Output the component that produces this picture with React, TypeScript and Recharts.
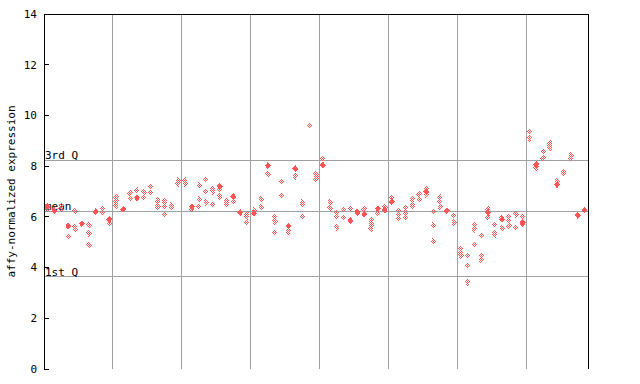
import React from "react";
import { ScatterChart, Scatter, XAxis, YAxis, ReferenceLine } from "recharts";

// sample index -> value, solid (filled) markers
const solidPoints: [number, number][] = [
  [0, 6.4], [1, 6.24], [3, 5.64], [5, 5.73], [7, 6.2], [9, 5.9], [11, 6.3], [13, 6.75],
  [21, 6.4], [25, 7.2], [27, 6.8], [28, 6.17], [30, 6.14], [32, 8.02], [35, 5.64], [36, 7.9],
  [40, 8.04], [44, 5.85], [45, 6.2], [46, 6.11], [48, 6.32], [49, 6.27], [50, 6.6], [55, 6.99],
  [58, 6.24], [64, 6.17], [66, 5.9], [69, 5.78], [71, 8.07], [74, 7.27], [77, 6.06], [78, 6.27],
];

// sample index -> value, hatched (checkered) markers
const hatchedPoints: [number, number][] = [
  [0, 6.3], [2, 6.45], [2, 6.32], [3, 5.23], [4, 6.23], [4, 5.61], [4, 5.51],
  [6, 5.67], [6, 5.35], [6, 4.88], [8, 6.3], [8, 6.2], [9, 5.74],
  [10, 6.77], [10, 6.61], [10, 6.45], [12, 6.94], [12, 6.72], [13, 7.05],
  [14, 6.97], [14, 6.77], [15, 7.2], [15, 6.97], [16, 6.64], [16, 6.41],
  [17, 6.6], [17, 6.41], [17, 6.1], [18, 6.47], [18, 6.38], [19, 7.45], [19, 7.32],
  [20, 7.43], [20, 7.3], [21, 6.3], [22, 7.24], [22, 6.69], [22, 6.41],
  [23, 7.48], [23, 7.01], [23, 6.57], [24, 7.09], [24, 7.01], [24, 6.5],
  [25, 7.09], [25, 6.81], [26, 6.64], [26, 6.56], [26, 6.47], [27, 6.61],
  [29, 6.1], [29, 6.01], [29, 5.78], [30, 6.26], [31, 6.69], [31, 6.38], [32, 7.68],
  [33, 6.02], [33, 5.82], [33, 5.39], [34, 7.4], [34, 6.85], [35, 5.43], [36, 7.6],
  [37, 6.58], [37, 6.49], [37, 6.02], [38, 9.61], [39, 7.69], [39, 7.58], [39, 7.49],
  [40, 8.31], [41, 6.57], [41, 6.34], [42, 6.18], [42, 6.01], [42, 5.59],
  [43, 6.3], [43, 5.98], [44, 6.34], [45, 6.14], [46, 6.3],
  [47, 5.88], [47, 5.74], [47, 5.64], [47, 5.53], [48, 6.14], [49, 6.38], [50, 6.77],
  [51, 6.27], [51, 6.11], [51, 5.94], [52, 6.34], [52, 6.11], [52, 5.98],
  [53, 6.69], [53, 6.51], [53, 6.4], [54, 6.89], [54, 6.69], [55, 7.11], [55, 6.87],
  [56, 6.21], [56, 5.67], [56, 5.04], [57, 6.77], [57, 6.6], [57, 6.4],
  [59, 6.06], [59, 5.78], [60, 4.77], [60, 4.56], [60, 4.48], [61, 4.48], [61, 4.09], [61, 3.42],
  [62, 5.68], [62, 5.51], [62, 4.92], [63, 5.27], [63, 4.46], [63, 4.29],
  [64, 6.3], [64, 5.98], [65, 5.7], [65, 5.38], [65, 5.3], [66, 5.98], [66, 5.55],
  [67, 6.02], [67, 5.85], [67, 5.65], [68, 6.1], [68, 5.59], [69, 6.02], [69, 5.69],
  [70, 9.37], [70, 9.1], [71, 7.95], [72, 8.58], [72, 8.31], [73, 8.9], [73, 8.82], [73, 8.73],
  [74, 7.41], [75, 7.79], [75, 7.71], [76, 8.42], [76, 8.31],
];

const groupBreaks = [9.5, 19.5, 29.5, 39.5, 49.5, 59.5, 69.5];
const yTicks = [0, 2, 4, 6, 8, 10, 12, 14];
const quartiles: { label: string; value: number }[] = [
  { label: "3rd Q", value: 8.23 },
  { label: "mean", value: 6.23 },
  { label: "1st Q", value: 3.63 },
];

const RED = "#ff5555";
const GRID = "#a0a0a0";
const FONT = "'DejaVu Sans Mono', monospace";

const solidData = solidPoints.map(([sample, value]) => ({ sample, value }));
const hatchedData = hatchedPoints.map(([sample, value]) => ({ sample, value }));

const diamond = (cx: number, cy: number) =>
  `${cx},${cy - 3.5} ${cx + 3},${cy} ${cx},${cy + 3.5} ${cx - 3},${cy}`;

const SolidShape = (props: any) => {
  const { cx, cy } = props;
  if (cx == null || cy == null) return <g />;
  return <polygon points={diamond(cx, cy)} fill={RED} shapeRendering="crispEdges" />;
};

const HatchedShape = (props: any) => {
  const { cx, cy } = props;
  if (cx == null || cy == null) return <g />;
  return (
    <g>
      <defs>
        <pattern id="chk" width={2} height={2} patternUnits="userSpaceOnUse">
          <rect x={0} y={0} width={1} height={1} fill={RED} />
          <rect x={1} y={1} width={1} height={1} fill={RED} />
        </pattern>
      </defs>
      <polygon points={diamond(cx, cy)} fill="url(#chk)" shapeRendering="crispEdges" />
    </g>
  );
};

const EmptyTick = () => <g />;

const lineStyle = { stroke: "#000", shapeRendering: "crispEdges" } as any;

export default function App() {
  return (
    <div style={{ position: "absolute", left: 0, top: 0 }}>
      <ScatterChart
        width={640}
        height={384}
        margin={{ top: 13, right: 51, bottom: 15, left: 0 }}
      >
        <XAxis
          dataKey="sample"
          type="number"
          domain={[-0.5, 78.5]}
          height={0}
          tick={false}
          tickLine={false}
          axisLine={lineStyle}
        />
        <XAxis
          xAxisId="top"
          orientation="top"
          type="number"
          domain={[-0.5, 78.5]}
          height={1}
          tick={false}
          tickLine={false}
          axisLine={lineStyle}
        />
        <YAxis
          dataKey="value"
          type="number"
          domain={[0, 14]}
          ticks={yTicks}
          width={44}
          tickSize={-5}
          tickMargin={12}
          tickLine={lineStyle}
          axisLine={lineStyle}
          tick={{ fill: "#000", fontSize: 11, fontFamily: FONT }}
          label={{
            content: (p: any) => {
              const vb = p.viewBox || {};
              const x = 15;
              const y = (vb.y ?? 14) + (vb.height ?? 355) / 2;
              return (
                <text
                  x={x}
                  y={y}
                  transform={`rotate(-90, ${x}, ${y})`}
                  textAnchor="middle"
                  fontSize={11}
                  fontFamily={FONT}
                  fill="#000"
                >
                  affy-normalized expression
                </text>
              );
            },
          }}
        />
        <YAxis
          yAxisId="right"
          orientation="right"
          type="number"
          domain={[0, 14]}
          ticks={yTicks}
          width={1}
          tickSize={-5}
          tickLine={lineStyle}
          axisLine={lineStyle}
          tick={<EmptyTick />}
        />
        {groupBreaks.map((b) => (
          <ReferenceLine key={b} x={b} stroke={GRID} strokeWidth={1} shapeRendering="crispEdges" />
        ))}
        {quartiles.map((q) => (
          <ReferenceLine
            key={q.label}
            y={q.value}
            stroke={GRID}
            strokeWidth={1}
            shapeRendering="crispEdges"
            label={{
              content: (p: any) => {
                const vb = p.viewBox || {};
                return (
                  <text
                    x={(vb.x ?? 44) + 1}
                    y={(vb.y ?? 0) - 1}
                    fontSize={11}
                    fontFamily={FONT}
                    fill="#000"
                  >
                    {q.label}
                  </text>
                );
              },
            }}
          />
        ))}
        <Scatter data={hatchedData} shape={<HatchedShape />} isAnimationActive={false} />
        <Scatter data={solidData} shape={<SolidShape />} isAnimationActive={false} />
      </ScatterChart>
    </div>
  );
}
